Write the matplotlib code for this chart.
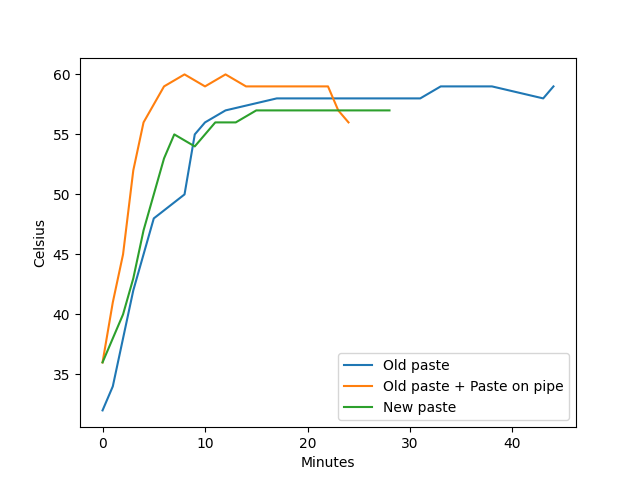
import matplotlib
matplotlib.use('Agg')
import matplotlib.pyplot as plt

old_x = [0, 1, 3, 5, 8, 9, 10, 12, 17, 31, 33, 38, 43, 44]
old_y = [32, 34, 42, 48, 50, 55, 56, 57, 58, 58, 59, 59, 58, 59]

pipe_x = [0, 1, 2, 3, 4, 6, 8, 10, 12, 14, 22, 23, 24]
pipe_y = [36, 41, 45, 52, 56, 59, 60, 59, 60, 59, 59, 57, 56]

new_x = [0, 2, 3, 4, 6, 7, 9, 11, 13, 15, 28]
new_y = [36, 40, 43, 47, 53, 55, 54, 56, 56, 57, 57]

plt.figure(figsize=(6.4, 4.8))
plt.plot(old_x, old_y, label='Old paste')
plt.plot(pipe_x, pipe_y, label='Old paste + Paste on pipe')
plt.plot(new_x, new_y, label='New paste')
plt.xlabel('Minutes')
plt.ylabel('Celsius')
plt.legend(loc='lower right')
plt.savefig('out.png', dpi=100)
